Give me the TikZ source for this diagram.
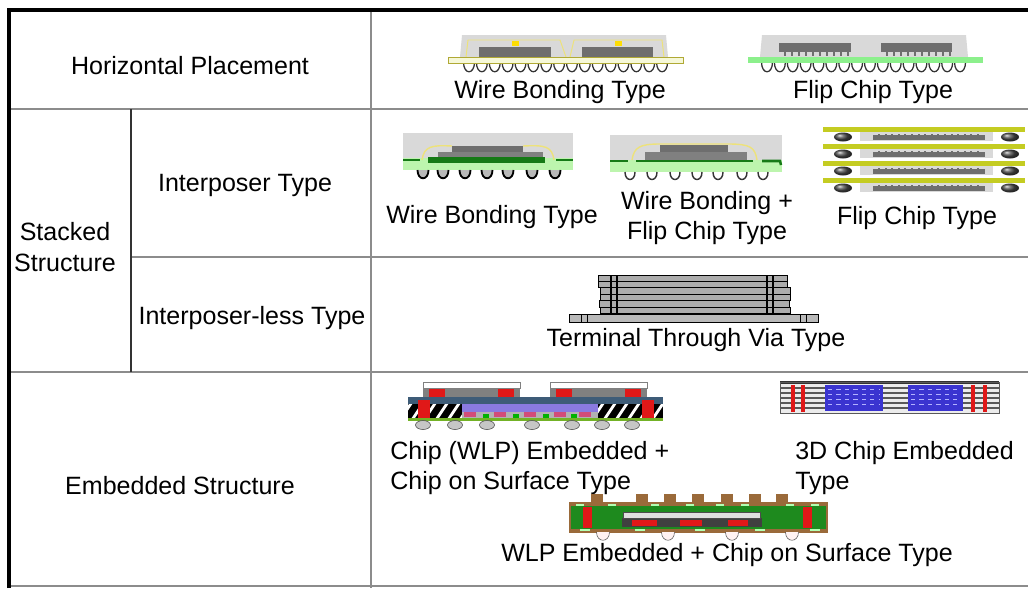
\documentclass[tikz,border=0pt]{standalone}
\usepackage{fontspec}
\setmainfont{Liberation Sans}
\usetikzlibrary{positioning}

\definecolor{moldgray}{HTML}{D9D9D9}
\definecolor{diegray}{HTML}{6E6E6E}
\definecolor{gridgray}{HTML}{8C8C8C}
\definecolor{fcgreen}{HTML}{8CF08C}
\definecolor{bandgreen}{HTML}{BDF5AE}
\definecolor{linegreen}{HTML}{167A16}
\definecolor{wireyellow}{HTML}{EDE27A}
\definecolor{subyellow}{HTML}{F6F8D8}
\definecolor{barolive}{HTML}{C4CC22}
\definecolor{viared}{HTML}{E01818}
\definecolor{dieblue}{HTML}{3A34D0}
\definecolor{padbrown}{HTML}{9A6A3A}
\definecolor{pcbgreen}{HTML}{1E8A1E}
\definecolor{steelblue}{HTML}{3E5C78}
\definecolor{lavender}{HTML}{8A7AE0}

\newcommand\lblfont{\fontsize{17.8}{21.4}\selectfont}

\begin{document}
\begin{tikzpicture}[x=0.025cm,y=-0.025cm,
    lbl/.style={font=\lblfont, inner sep=0pt},
    grid/.style={draw=gridgray, line width=1.1pt},
    frame/.style={line width=2.4pt},
    mold/.style={fill=moldgray},
    die/.style={fill=diegray},
    ubump/.style={draw=black!80, line width=0.9pt},
    wire/.style={draw=wireyellow, line width=0.7pt}]
    \useasboundingbox (0,0) rectangle (1028,588);

    % Table
    \draw[grid] (9,109) -- (1028,109);
    \draw[grid] (131,257) -- (1028,257);
    \draw[grid] (9,372) -- (1028,372);
    \draw[grid] (9,586) -- (1028,586);
    \draw[grid] (371,10) -- (371,588);
    \draw[black!80, line width=0.8pt] (131,109) -- (131,372);
    \draw[frame] (9,588) -- (9,10) -- (1028,10);

    % Row labels
    \node[lbl] (hp) at (190,66) {Horizontal Placement};
    \node[lbl, align=center] (stk) at (65,247) {Stacked\\Structure};
    \node[lbl] (ip) at (245,185) {Interposer Type};
    \node[lbl] (ipl) at (252,318) {Interposer-less Type};
    \node[lbl] (emb) at (180,486) {Embedded Structure};

    % Horizontal, wire bonding
    \fill[mold] (460,57) -- (462,35) -- (666,35) -- (668,57) -- cycle;
    \draw[wire] (466,57) -- (468,40) -- (560,40) -- (566,57);
    \draw[wire] (570,57) -- (574,40) -- (662,40) -- (664,57);
    \fill[die] (479,47) rectangle (551,57);
    \fill[die] (582,47) rectangle (653,57);
    \fill[yellow!80!orange] (512,41) rectangle (519,46);
    \fill[yellow!80!orange] (615,41) rectangle (622,46);
    \foreach \i in {0,...,15}
        \draw[ubump] ({469+12.87*\i-5.5},62) .. controls ({469+12.87*\i-5.5},75) and ({469+12.87*\i+5.5},75) .. ({469+12.87*\i+5.5},62);
    \draw[fill=subyellow, draw=olive!70] (448,57) rectangle (683,63);
    \node[lbl] (wbh) at (560,92) {Wire Bonding Type};

    % Horizontal, flip chip
    \fill[mold] (760,57) -- (762,35) -- (966,35) -- (968,57) -- cycle;
    \fill[die] (779,43) rectangle (851,52);
    \fill[die] (881,43) rectangle (952,52);
    \foreach \i in {0,...,9} {
        \fill[diegray] ({784+7*\i},52) rectangle ({786+7*\i},56);
        \fill[diegray] ({886+7*\i},52) rectangle ({888+7*\i},56);
    }
    \foreach \i in {0,...,15}
        \draw[ubump] ({767+12.87*\i-5.5},62) .. controls ({767+12.87*\i-5.5},75) and ({767+12.87*\i+5.5},75) .. ({767+12.87*\i+5.5},62);
    \fill[fcgreen] (748,57) rectangle (983,63);
    \node[lbl] (fch) at (873,92) {Flip Chip Type};

    % Interposer, wire bonding
    \fill[mold] (403,133) rectangle (573,158);
    \fill[bandgreen] (403,158) rectangle (573,170);
    \draw[wire, line width=1pt] (422,160) .. controls (424,146) and (432,145) .. (452,146);
    \draw[wire, line width=1pt] (523,146) .. controls (545,145) and (552,146) .. (554,160);
    \fill[gray] (438,152) rectangle (543,158);
    \fill[diegray] (452,146) rectangle (523,152);
    \fill[linegreen] (428,157) rectangle (545,163);
    \draw[linegreen, line width=1.4pt] (403,160) -- (420,160);
    \draw[linegreen, line width=1.4pt] (556,160) -- (573,160);
    \foreach \bx in {423,443,465,487,508,532,555}
        \draw[fill=gray!55, draw=black, line width=1.3pt] ({\bx-5.5},170) .. controls ({\bx-5.5},181) and ({\bx+5.5},181) .. ({\bx+5.5},170);
    \node[lbl] (wbi) at (492,217) {Wire Bonding Type};

    % Interposer, wire bonding + flip chip
    \fill[mold] (610,135) rectangle (782,160);
    \fill[bandgreen] (610,160) rectangle (782,172);
    \draw[wire, line width=1pt] (632,160) .. controls (634,147) and (640,144) .. (660,144) -- (728,144) .. controls (750,144) and (755,147) .. (757,160);
    \fill[gray] (645,152) rectangle (747,160);
    \fill[diegray] (660,145) rectangle (728,152);
    \draw[linegreen, line width=1.8pt] (610,161) -- (628,161);
    \draw[linegreen, line width=1.8pt] (636,161) -- (753,161);
    \draw[linegreen, line width=1.8pt] (762,161) -- (780,161) -- (781,165);
    \foreach \bx in {630,652,675,697,718,742,763}
        \draw[fill=white, draw=black!80, line width=1pt] ({\bx-5},172) .. controls ({\bx-5},182) and ({\bx+5},182) .. ({\bx+5},172);
    \node[lbl, align=center] (wbfc) at (707,218) {Wire Bonding +\\Flip Chip Type};

    % Interposer, stacked flip chip
    \foreach \yb in {127,144,161,178} {
        \fill[moldgray] (860,{\yb+5}) rectangle (993,{\yb+14});
        \fill[diegray] (873,{\yb+8}) rectangle (985,{\yb+13});
        \foreach \k in {0,...,15}
            \fill[diegray] ({878+6.6*\k},{\yb+6.5}) rectangle ({880+6.6*\k},{\yb+8});
        \shade[ball color=gray!60!black] (843,{\yb+10}) ellipse [x radius=9, y radius=4.5];
        \shade[ball color=gray!60!black] (1010,{\yb+10}) ellipse [x radius=9, y radius=4.5];
        \fill[barolive] (823,\yb) rectangle (1025,{\yb+5});
    }
    \node[lbl] (fci) at (917,218) {Flip Chip Type};

    % Interposer-less, through via
    \foreach \i/\xl/\xr in {0/598/787,1/598/787,2/600/790,3/600/790,4/599/789,5/600/790}
        \draw[fill=gray!65, draw=black, line width=0.7pt] (\xl,{275+6.4*\i}) rectangle (\xr,{281.4+6.4*\i});
    \foreach \vx in {611,617,767,773}
        \draw[black, line width=0.8pt] (\vx,275) -- (\vx,314);
    \draw[fill=gray!55, draw=black, line width=0.7pt] (569,314) rectangle (818,322);
    \draw[black, line width=0.6pt] (581,314) rectangle (587,322);
    \draw[black, line width=0.6pt] (800,314) rectangle (806,322);
    \node[lbl] (ttv) at (696,340) {Terminal Through Via Type};

    % Embedded, chip (WLP) + chip on surface
    \foreach \xa/\xb in {423/520,550/647} {
        \draw[fill=white, draw=gray] (\xa,382) rectangle (\xb,388);
        \fill[gray] (\xa,388) rectangle (\xb,397);
        \fill[viared] ({\xa+6},389) rectangle ({\xa+22},397);
        \fill[viared] ({\xb-22},389) rectangle ({\xb-6},397);
    }
    \fill[steelblue] (408,397) rectangle (663,404);
    \fill[black] (408,404) rectangle (663,418);
    \begin{scope}
        \clip (408,404) rectangle (663,418);
        \foreach \k in {0,...,22}
            \draw[white, line width=2pt] ({400+12*\k},420) -- ({412+12*\k},402);
    \end{scope}
    \fill[lavender] (462,404) rectangle (598,412);
    \fill[gray!60] (462,412) rectangle (598,418);
    \foreach \px in {470,500,530,560,585}
        \fill[purple!70] ({\px-6},412) rectangle ({\px+6},417);
    \foreach \px in {486,516,546,574}
        \fill[green!70!black] ({\px-3},414) rectangle ({\px+3},418);
    \fill[viared] (418,400) rectangle (430,418);
    \fill[viared] (642,400) rectangle (654,418);
    \fill[brown!60!green] (408,418) rectangle (663,421);
    \foreach \bx in {423,455,487,532,572,602,632}
        \draw[fill=gray!45, draw=gray!60!black] (\bx,425) ellipse [x radius=7.5, y radius=4.5];
    \node[lbl, anchor=west, align=left] (cwlp) at (390,468) {Chip (WLP) Embedded +\\Chip on Surface Type};

    % Embedded, 3D chip
    \fill[gray!15] (780,382) rectangle (999,413);
    \foreach \sy in {388,393,398,403,408}
        \draw[gray!70!black, line width=1.8pt] (780,\sy) -- (999,\sy);
    \foreach \xa/\xb in {825/883,908/963} {
        \fill[dieblue] (\xa,385) rectangle (\xb,411);
        \foreach \sy in {389,394,399,404}
            \draw[blue!30, line width=0.6pt, dashed] ({\xa+3},\sy) -- ({\xb-3},\sy);
    }
    \foreach \vx in {793,803,973,985}
        \draw[viared, line width=2.6pt] (\vx,385) -- (\vx,412);
    \draw[black!80, line width=1.6pt] (780,382.5) -- (999,382.5);
    \draw[gray!70!black, line width=0.6pt] (780,382) rectangle (999,413);
    \node[lbl, anchor=west, align=left] (c3d) at (795,468) {3D Chip Embedded\\Type};

    % Embedded, WLP + chip on surface
    \foreach \cx in {597,642,670,698,727,755,782}
        \fill[padbrown] ({\cx-6},494) rectangle ({\cx+6},503);
    \draw[fill=pcbgreen, draw=padbrown, line width=1.2pt] (570,503) rectangle (827,532);
    \draw[padbrown, line width=1.6pt] (570,505) -- (827,505);
    \foreach \px in {580,612,655,690,720,745,790,815}
        \draw[green!30, line width=1.4pt] ({\px-4},505) -- ({\px+4},505);
    \fill[viared] (583,507) rectangle (592,528);
    \fill[viared] (803,507) rectangle (812,528);
    \fill[black!75] (622,518) rectangle (762,527);
    \draw[fill=gray!25, draw=black!70] (623,512) rectangle (760,518);
    \fill[viared] (632,520) rectangle (657,526);
    \fill[viared] (680,520) rectangle (702,526);
    \fill[viared] (728,520) rectangle (748,526);
    \draw[padbrown, line width=1.4pt] (570,530) -- (827,530);
    \foreach \px in {585,640,700,760,815}
        \draw[green!30, line width=1.4pt] ({\px-5},530) -- ({\px+5},530);
    \foreach \bx in {603,668,732,792}
        \draw[fill=red!5, draw=gray!70!black] ({\bx-6.5},532) .. controls ({\bx-6.5},543) and ({\bx+6.5},543) .. ({\bx+6.5},532);
    \node[lbl] (wlpe) at (727,555) {WLP Embedded + Chip on Surface Type};
\end{tikzpicture}
\end{document}
